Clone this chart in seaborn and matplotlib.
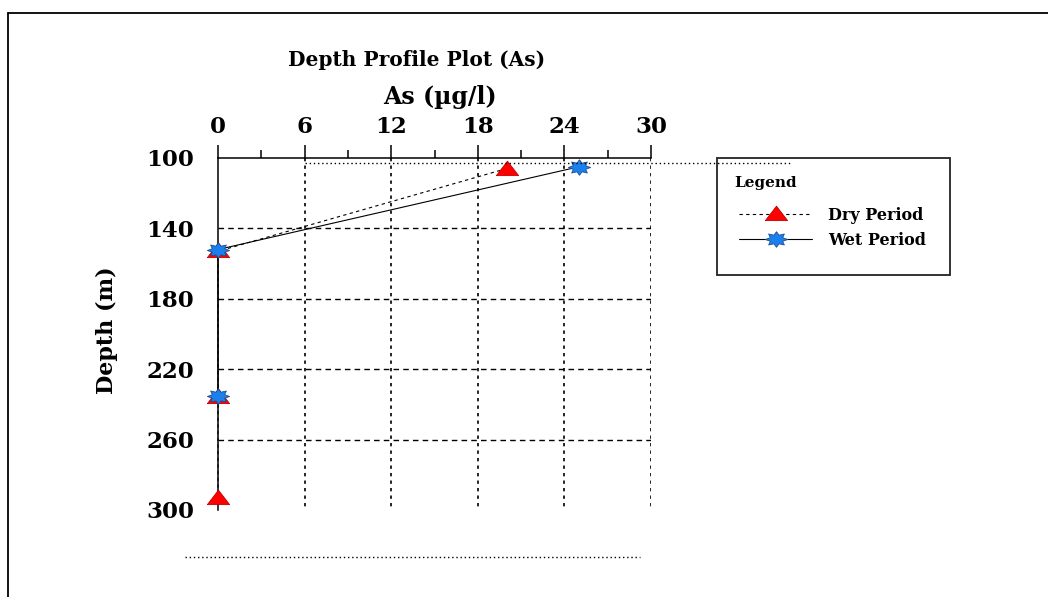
import numpy as np
import matplotlib
matplotlib.use("Agg")
import matplotlib.pyplot as plt
from matplotlib.lines import Line2D
from matplotlib.patches import Rectangle
import seaborn as sns

# valeurs
as_dry = [20.0, 0.0, 0.0, 0.0]
depth_dry = [106, 153, 236, 293]
as_wet = [25.0, 0.0, 0.0]
depth_wet = [105, 152, 235]

x_ticks = [0, 6, 12, 18, 24, 30]
y_ticks = [100, 140, 180, 220, 260, 300]

sns.set_style("white")
plt.rcParams['font.family'] = ['DejaVu Serif']
plt.rcParams['font.weight'] = 'bold'
plt.rcParams['text.color'] = 'black'
plt.rcParams['axes.labelcolor'] = 'black'
plt.rcParams['xtick.color'] = 'black'
plt.rcParams['ytick.color'] = 'black'

W, H = 1048, 597
fig = plt.figure(figsize=(W / 100, H / 100), dpi=100)
ax = fig.add_axes([218 / W, 1 - 510 / H, 433 / W, 352 / H])

# marqueurs aplatis (image d'origine étirée en largeur)
tri = [(-1, -0.55), (1, -0.55), (0, 0.75), (-1, -0.55)]
ang = np.linspace(0, 2 * np.pi, 17)[:-1]
rad = np.where(np.arange(16) % 2 == 0, 1.0, 0.6)
star = list(zip(rad * np.sin(ang), 0.7 * rad * np.cos(ang)))
star.append(star[0])

sns.lineplot(x=as_dry, y=depth_dry, sort=False, estimator=None, ax=ax,
             color='black', lw=0.8, dashes=(3, 3), label='Dry Period',
             marker=tri, markersize=16, markerfacecolor='#ff0000',
             markeredgecolor='#c00000', markeredgewidth=0.6, zorder=4, clip_on=False)
sns.lineplot(x=as_wet, y=depth_wet, sort=False, estimator=None, ax=ax,
             color='black', lw=0.8, label='Wet Period',
             marker=star, markersize=16, markerfacecolor='#1a80f0',
             markeredgecolor='#1d4f8a', markeredgewidth=0.6, zorder=5, clip_on=False)

ax.set_xlim(0, 30)
ax.set_ylim(300, 100)
ax.set_xticks(x_ticks)
ax.set_xticks([3, 9, 15, 21, 27], minor=True)
ax.set_yticks(y_ticks)
ax.set_yticks([120, 160, 200, 240, 280], minor=True)
ax.xaxis.tick_top()
ax.xaxis.set_label_position('top')

for s in ['right', 'bottom']:
    ax.spines[s].set_visible(False)
for s in ['top', 'left']:
    ax.spines[s].set_linewidth(1.1)
    ax.spines[s].set_color('black')

ax.tick_params(axis='x', which='major', length=9.5, width=1.1, pad=5,
               labelsize=16.5, direction='out')
ax.tick_params(axis='x', which='minor', length=6, width=1.1, direction='out')
ax.tick_params(axis='y', which='major', length=13, width=1.1, pad=4,
               labelsize=16.5, direction='out')
ax.tick_params(axis='y', which='minor', length=6, width=1.1, direction='out')

# grille
ax.vlines(x_ticks[1:], 100, 300, colors='black', lw=1.2, linestyles=(0, (2, 2.5)), zorder=1)
ax.hlines(y_ticks[1:-1], 0, 30, colors='black', lw=1.0, linestyles=(0, (4, 3)), zorder=1)

ax.set_xlabel('As (µg/l)', fontsize=17, fontweight='bold')
ax.xaxis.set_label_coords(0.513, 1.152)
ax.set_ylabel('Depth (m)', fontsize=16, fontweight='bold')
ax.yaxis.set_label_coords(-0.231, 0.511)

fig.text(417 / W, 1 - 60 / H, 'Depth Profile Plot (As)', ha='center', va='center',
         fontsize=14.5, fontweight='bold')

# cadre et traits pointillés parasites
fig.add_artist(Line2D([8 / W, 8 / W], [0, 1 - 13 / H], color='black', lw=1.3))
fig.add_artist(Line2D([8 / W, 1], [1 - 13 / H, 1 - 13 / H], color='black', lw=1.3))
fig.add_artist(Line2D([305 / W, 790 / W], [1 - 163 / H, 1 - 163 / H], color='black',
                      lw=1.0, linestyle=(0, (1, 2))))
fig.add_artist(Line2D([185 / W, 640 / W], [1 - 557 / H, 1 - 557 / H], color='black',
                      lw=1.0, linestyle=(0, (1, 2))))

# légende
fig.add_artist(Rectangle((717 / W, 1 - 275 / H), 233 / W, 117 / H, transform=fig.transFigure,
                         fill=False, edgecolor='#222222', lw=1.3))
fig.text(734 / W, 1 - 183 / H, 'Legend', ha='left', va='center', fontsize=11, fontweight='bold')
handles, labels = ax.get_legend_handles_labels()
ax.get_legend().remove()
leg = fig.legend(handles, labels, loc='upper left',
                 bbox_to_anchor=(731 / W, 1 - 199 / H), frameon=False,
                 prop={'size': 11.5, 'weight': 'bold'},
                 handlelength=4.6, handletextpad=1.0, labelspacing=0.5, borderpad=0)

fig.savefig('out.png', dpi=100)
